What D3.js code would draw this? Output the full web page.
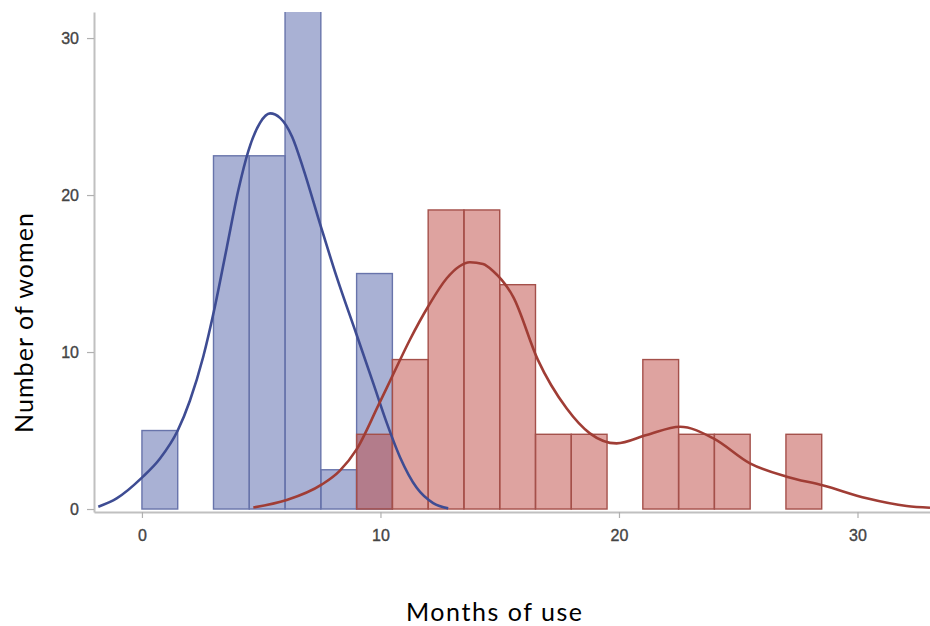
<!DOCTYPE html>
<html>
<head>
<meta charset="utf-8">
<script src="https://cdn.jsdelivr.net/npm/d3@7/dist/d3.min.js"></script>
<style>
  html, body { margin: 0; padding: 0; background: #fff; }
  svg { display: block; }
  .tick text { font-family: "Liberation Sans", Arial, sans-serif; }
</style>
</head>
<body>
<svg id="chart" width="930" height="626"></svg>
<script>
// Histogram bins (1.5-month wide), left edges in months
const binWidth = 1.5;
const blueBinStarts = [0, 1.5, 3, 4.5, 6, 7.5, 9];
const blueValues = [5, 0, 22.5, 22.5, 32.5, 2.5, 15];

const redBinStarts = [0, 1.5, 3, 4.5, 6, 7.5, 9, 10.5, 12, 13.5, 15, 16.5, 18, 19.5, 21, 22.5, 24, 25.5, 27];
const redValues = [0, 0, 0, 0, 0, 0, 4.76, 9.52, 19.05, 19.05, 14.29, 4.76, 4.76, 0, 9.52, 4.76, 4.76, 0, 4.76];

// Smoothed density curves, sampled as [months, height]
const blueCurve = [
  [-1.83, 0.15], [-1.06, 0.68], [0, 2.0], [0.75, 3.2], [1.5, 5.0], [2.01, 6.9],
  [2.57, 9.7], [3.06, 12.9], [3.55, 16.6], [4.04, 20.3], [4.46, 22.8], [4.95, 24.6],
  [5.37, 25.2], [5.8, 24.9], [6.3, 23.7], [6.76, 21.7], [7.46, 18.2], [8.16, 14.8], [9.0, 11.1],
  [9.7, 8.0], [10.26, 5.5], [10.82, 3.3], [11.52, 1.35], [12.21, 0.38], [12.84, 0.04]
];
const redCurve = [
  [4.67, 0.1], [6.07, 0.57], [7.53, 1.55], [8.3, 2.45], [9.0, 3.8], [9.91, 6.6],
  [10.54, 8.6], [11.24, 10.8], [12.0, 12.9], [12.78, 14.7], [13.3, 15.45], [13.75, 15.72],
  [14.3, 15.6], [14.73, 15.15], [15.57, 13.5], [16.6, 9.5], [17.81, 6.4], [18.78, 4.82],
  [19.9, 4.18], [21.16, 4.71], [22.56, 5.24], [23.96, 4.5], [25.49, 2.91], [27.03, 2.06],
  [28.57, 1.5], [30.39, 0.68], [32.06, 0.19], [33.04, 0.08]
];

const xTicks = [0, 10, 20, 30];
const yTicks = [0, 10, 20, 30];
const xTitle = "Months of use";
const yTitle = "Number of women";

const svg = d3.select("#chart");
const plot = { left: 94, right: 930, top: 12, bottom: 512 };

const x = d3.scaleLinear().domain([-2.01, 33.04]).range([plot.left, plot.right]);
const y = d3.scaleLinear().domain([-0.19, 31.66]).range([plot.bottom, plot.top]);

svg.append("defs").append("clipPath").attr("id", "plotClip")
  .append("rect")
  .attr("x", plot.left).attr("y", plot.top)
  .attr("width", plot.right - plot.left).attr("height", plot.bottom - plot.top);

const g = svg.append("g").attr("clip-path", "url(#plotClip)");

function drawBars(starts, values, fill, stroke) {
  g.append("g").selectAll("rect")
    .data(starts.map((s, i) => ({ s, v: values[i] })))
    .join("rect")
    .attr("x", d => x(d.s))
    .attr("width", d => x(d.s + binWidth) - x(d.s))
    .attr("y", d => y(d.v))
    .attr("height", d => y(0) - y(d.v))
    .attr("fill", fill)
    .attr("stroke", stroke)
    .attr("stroke-width", 1.4);
}

drawBars(blueBinStarts, blueValues, "rgba(84,100,170,0.5)", "#6874ab");
drawBars(redBinStarts, redValues, "rgba(190,72,66,0.5)", "#a4504a");

const line = d3.line()
  .x(d => x(d[0]))
  .y(d => y(d[1]))
  .curve(d3.curveMonotoneX);

g.append("path").datum(blueCurve)
  .attr("d", line).attr("fill", "none")
  .attr("stroke", "#3e4c93").attr("stroke-width", 2.6);
g.append("path").datum(redCurve)
  .attr("d", line).attr("fill", "none")
  .attr("stroke", "#a03d35").attr("stroke-width", 2.6);

// Axes
const xAxis = svg.append("g")
  .attr("transform", `translate(0,${plot.bottom})`)
  .call(d3.axisBottom(x).tickValues(xTicks).tickSize(6).tickSizeOuter(0).tickPadding(12));
const yAxis = svg.append("g")
  .attr("transform", `translate(${plot.left},0)`)
  .call(d3.axisLeft(y).tickValues(yTicks).tickSize(7).tickSizeOuter(0).tickPadding(8));

[xAxis, yAxis].forEach(a => {
  a.select(".domain").attr("stroke", "#c0c0c0").attr("stroke-width", 2);
  a.selectAll(".tick line").attr("stroke", "#b0b0b0").attr("stroke-width", 1.2);
  a.selectAll(".tick text").attr("fill", "#444").attr("font-size", 16)
    .attr("stroke", "#444").attr("stroke-width", 0.35);
});

// Titles
svg.append("text")
  .attr("x", 494).attr("y", 621)
  .attr("text-anchor", "middle")
  .attr("font-family", "Lato, 'Open Sans', sans-serif")
  .attr("font-size", 25)
  .attr("textLength", 176).attr("lengthAdjust", "spacing")
  .attr("fill", "#000")
  .text(xTitle);

svg.append("text")
  .attr("transform", "translate(33,323) rotate(-90)")
  .attr("text-anchor", "middle")
  .attr("font-family", "Lato, 'Open Sans', sans-serif")
  .attr("font-size", 25)
  .attr("textLength", 220).attr("lengthAdjust", "spacing")
  .attr("fill", "#000")
  .text(yTitle);
</script>
</body>
</html>
